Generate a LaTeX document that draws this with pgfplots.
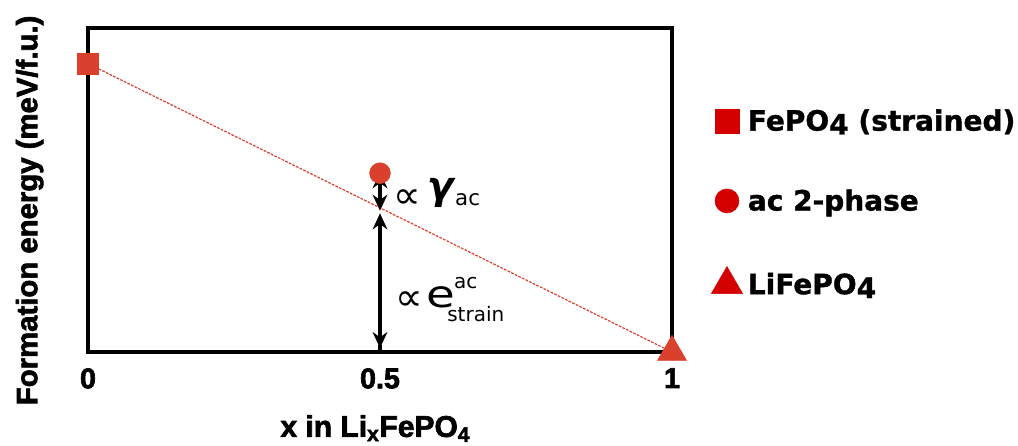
\documentclass[border=0pt]{standalone}
\usepackage{fontspec}
\setmainfont{DejaVu Sans}
\newfontfamily\arialfont{Liberation Sans}[BoldFeatures={FakeBold=2.2}]
\newfontfamily\legfont{DejaVu Sans}[BoldFeatures={FakeBold=1.2}]
\usepackage{pgfplots}
\pgfplotsset{compat=1.18}
\usetikzlibrary{arrows.meta}
\definecolor{ptred}{HTML}{D9402E}
\definecolor{legred}{HTML}{D40000}
\tikzset{twohead/.style={{Stealth[length=12pt,width=11pt]}-{Stealth[length=12pt,width=11pt]}, line width=2.6pt}}
\begin{document}
\begin{tikzpicture}
\begin{axis}[
  at={(0pt,0pt)}, anchor=south west,
  scale only axis, width=438pt, height=243pt,
  xmin=0, xmax=1, ymin=0, ymax=1,
  clip=false,
  axis line style={line width=2.6pt},
  xtick={0,0.5,1}, xticklabels={0,0.5,1},
  ytick=\empty,
  xtick pos=lower, tick align=inside,
  major tick length=5pt,
  tick style={line width=2.4pt, black},
  /pgf/number format/assume math mode=true,
  xticklabel style={font=\arialfont\bfseries\fontsize{21.5}{24}\selectfont,
    inner sep=0pt, anchor=north, yshift=-12pt},
  xlabel={x in Li\textsubscript{x}FePO\textsubscript{4}},
  xlabel style={font=\arialfont\bfseries\fontsize{22.5}{26}\selectfont,
    at={(axis description cs:0.492,-0.262)}, anchor=base},
  ylabel={Formation energy (meV/f.u.)},
  ylabel style={font=\arialfont\bfseries\fontsize{22}{26}\selectfont,
    at={(axis description cs:-0.087,0.437)}, anchor=base},
  legend style={at={(axis description cs:1.067,0.758)}, anchor=north west,
    draw=none, fill=none, inner sep=0pt,
    font=\legfont\bfseries\fontsize{21}{25}\selectfont,
    row sep=38.5pt, column sep=2pt,
    nodes={inner sep=2pt}},
  legend cell align=left,
]
% tie line between the two end members
\addplot[ptred, line width=0.9pt, dash pattern=on 2pt off 1pt, forget plot]
  coordinates {(0,0.89) (1,0)};
% end members and the two-phase state
\addplot[only marks, mark=square*, mark size=8pt, color=ptred, forget plot]
  coordinates {(0,0.89)};
\addplot[only marks, mark=*, mark size=7.8pt, color=ptred, forget plot]
  coordinates {(0.5,0.552)};
\addplot[only marks, mark=triangle*, mark size=12.5pt, color=ptred, forget plot]
  coordinates {(1,0)};
% energy contributions
\draw[twohead] (axis cs:0.5,0.555) -- (axis cs:0.5,0.436);
\draw[twohead] (axis cs:0.5,0.428) -- (axis cs:0.5,0.012);
\node[inner sep=0pt, font=\fontsize{29}{34}\selectfont] at (axis cs:0.546,0.473) {∝};
\node[inner sep=0pt, font=\bfseries\fontsize{29}{32}\selectfont] at (axis cs:0.605,0.490) {\textsl{γ}};
\node[inner sep=0pt, font=\fontsize{16}{18}\selectfont] at (axis cs:0.650,0.470) {ac};
\node[inner sep=0pt, font=\fontsize{29}{34}\selectfont] at (axis cs:0.550,0.158) {∝};
\node[inner sep=0pt, font=\fontsize{28}{32}\selectfont] at (axis cs:0.605,0.170) {\scalebox{1.25}[1]{e}};
\node[inner sep=0pt, font=\fontsize{15}{17}\selectfont] at (axis cs:0.647,0.213) {ac};
\node[inner sep=0pt, font=\fontsize{15}{17}\selectfont] at (axis cs:0.664,0.118) {strain};
% legend
\addlegendimage{only marks, mark=square*, mark size=9pt, color=legred}
\addlegendimage{only marks, mark=*, mark size=9pt, color=legred}
\addlegendimage{only marks, mark=triangle*, mark size=13.5pt, color=legred}
\legend{FePO\raisebox{-0.25ex}{4} (strained),ac 2-phase,LiFePO\raisebox{-0.25ex}{4}}
\end{axis}
\pgfresetboundingbox
\path[use as bounding box] (-66pt,-70.5pt) rectangle (697.5pt,264pt);
\end{tikzpicture}
\end{document}
